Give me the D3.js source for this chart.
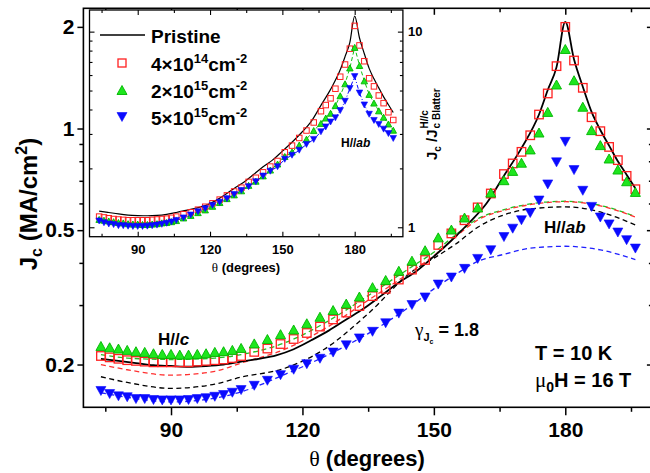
<!DOCTYPE html>
<html>
<head>
<meta charset="utf-8">
<script src="https://cdn.jsdelivr.net/npm/d3@7"></script>
<style>
  html, body { margin: 0; padding: 0; background: #fff; }
  svg { display: block; font-family: "Liberation Sans", Arial, sans-serif; }
  text { white-space: pre; }
</style>
</head>
<body>
<svg id="chart" width="650" height="473"></svg>
<script>
// ---------- angles (degrees) ----------
const thetaMain = [74,76,78,80,82,84,86,88,90,92,94,96,98,100,102,104,106,
  109,112,115,118,121,124,127,130,133,136,139,142,145,148,151,154,157,160,163,
  166,168,170,172,174,176,178,180,182,184,186,188,190,192,194,196];
const thetaPristine = [74,78,82,86,90,94,98,102,106,110,114,118,122,126,130,134,138,142,
  146,150,154,158,162,166,170,174,176,178,180,182,184,186,188,190,192,194,196];
const thetaFit = [74,80,90,100,106,116,125,135,145,150,155,160,166,172,180,188,196];

// ---------- main panel: Jc (MA/cm^2) ----------
const jcPristine = [0.208,0.205,0.202,0.199,0.198,0.197,0.198,0.200,0.204,0.208,0.213,0.222,
  0.236,0.252,0.272,0.293,0.320,0.350,0.378,0.418,0.466,0.525,0.600,0.725,0.875,1.10,1.30,1.52,
  2.07,1.60,1.33,1.12,0.99,0.89,0.80,0.73,0.665];
const jc4e14 = [0.212,0.210,0.208,0.206,0.205,0.204,0.203,0.203,0.203,0.203,0.203,0.204,0.205,0.206,0.207,0.209,0.212,
  0.218,0.223,0.230,0.238,0.248,0.259,0.272,0.285,0.298,0.319,0.335,0.357,0.382,0.408,0.452,0.489,0.535,0.584,0.642,
  0.733,0.788,0.853,0.955,1.10,1.27,1.53,2.00,1.59,1.32,1.08,0.982,0.882,0.806,0.724,0.661];
const jc2e15 = [0.227,0.225,0.223,0.221,0.219,0.218,0.216,0.215,0.215,0.214,0.214,0.215,0.216,0.218,0.219,0.221,0.224,
  0.231,0.238,0.246,0.254,0.265,0.277,0.290,0.303,0.318,0.339,0.356,0.379,0.406,0.436,0.476,0.502,0.545,0.584,0.646,
  0.703,0.749,0.792,0.867,0.973,1.12,1.35,1.72,1.39,1.16,0.989,0.893,0.815,0.756,0.698,0.649];
const jc5e15 = [0.167,0.1635,0.161,0.160,0.158,0.158,0.157,0.1566,0.1566,0.1566,0.157,0.158,0.159,0.1605,0.1624,0.165,0.168,
  0.173,0.179,0.186,0.193,0.2005,0.208,0.217,0.228,0.239,0.250,0.265,0.283,0.300,0.316,0.345,0.362,0.384,0.411,0.436,
  0.477,0.505,0.535,0.562,0.612,0.683,0.794,0.913,0.753,0.654,0.586,0.545,0.520,0.492,0.467,0.441];

// Blatter scaling curves (dashed)
const fitPristine = [0.184,0.177,0.170,0.175,0.1835,0.195,0.222,0.283,0.377,0.413,0.455,0.510,0.555,0.578,0.586,0.566,0.518];
const fit4e14     = [0.200,0.193,0.186,0.191,0.202,0.222,0.255,0.310,0.378,0.420,0.478,0.536,0.572,0.595,0.607,0.590,0.547];
const fit2e15     = [0.214,0.209,0.207,0.209,0.214,0.232,0.265,0.320,0.390,0.430,0.485,0.540,0.575,0.598,0.609,0.592,0.549];
const fit5e15     = [0.165,0.160,0.155,0.159,0.166,0.187,0.211,0.247,0.300,0.335,0.370,0.404,0.424,0.442,0.448,0.437,0.409];

// ---------- inset: Jc / Jc,Blatter(H//c) ----------
const rPristine = [1.21,1.19,1.17,1.155,1.148,1.145,1.15,1.165,1.19,1.22,1.25,1.29,1.36,1.46,1.58,1.70,1.86,2.04,
  2.21,2.45,2.72,3.05,3.48,4.20,5.07,6.38,7.45,8.81,12.0,9.28,7.71,6.49,5.74,5.16,4.64,4.23,3.86];
const r4e14 = [1.134,1.123,1.112,1.102,1.096,1.091,1.086,1.086,1.086,1.086,1.086,1.091,1.096,1.102,1.107,1.118,1.134,
  1.166,1.193,1.23,1.273,1.326,1.385,1.455,1.524,1.594,1.706,1.791,1.909,2.043,2.182,2.417,2.615,2.861,3.123,3.433,
  3.92,4.214,4.561,5.107,5.882,6.791,8.182,10.7,8.503,7.059,5.775,5.251,4.717,4.31,3.872,3.535];
const r2e15 = [1.097,1.087,1.077,1.068,1.058,1.053,1.043,1.039,1.039,1.034,1.034,1.039,1.043,1.053,1.058,1.068,1.082,
  1.116,1.15,1.188,1.227,1.28,1.338,1.401,1.464,1.536,1.638,1.72,1.831,1.961,2.106,2.3,2.425,2.633,2.821,3.121,
  3.396,3.618,3.826,4.188,4.7,5.411,6.522,8.309,6.715,5.604,4.778,4.314,3.937,3.652,3.372,3.135];
const r5e15 = [1.077,1.055,1.039,1.032,1.019,1.019,1.013,1.01,1.01,1.01,1.013,1.019,1.026,1.035,1.048,1.065,1.084,
  1.116,1.155,1.2,1.245,1.294,1.342,1.4,1.471,1.542,1.613,1.71,1.826,1.935,2.039,2.226,2.335,2.477,2.652,2.813,
  3.077,3.258,3.452,3.626,3.948,4.406,5.123,5.89,4.858,4.219,3.781,3.516,3.355,3.174,3.013,2.845];

// ---------- ticks ----------
const xMajor = [90,120,150,180];
const xMinor = [75,105,135,165,195];
const yMajorMain = [0.2,0.5,1,2];
const yMinorMain = [0.3,0.4,0.6,0.7,0.8,0.9];
const yMajorInset = [1,10];
const yMinorInset = [2,3,4,5,6,7,8,9];

// ---------- colours ----------
const RED = "#ff2020", GREEN = "#1ee61e", GREEN_EDGE = "#00b400", BLUE = "#0a0aff";
const SANS = "'Liberation Sans', Arial, sans-serif";
const SERIF = "'Liberation Serif', 'DejaVu Serif', serif";

const svg = d3.select("#chart");
svg.append("rect").attr("width", 650).attr("height", 473).attr("fill", "#fff");

// ---------- helpers ----------
function rich(parent, x, y, parts, size, anchor) {
  const t = parent.append("text").attr("x", x).attr("y", y)
    .attr("text-anchor", anchor || "start").attr("font-family", SANS)
    .attr("font-weight", "bold").attr("font-size", size).attr("fill", "#000");
  let prev = 0;
  parts.forEach(p => {
    const off = p.off || 0;
    const s = t.append("tspan").text(p.t).attr("dy", off - prev);
    prev = off;
    if (p.size) s.attr("font-size", p.size);
    if (p.italic) s.attr("font-style", "italic");
    if (p.serif) s.attr("font-family", SERIF).attr("font-weight", "normal");
  });
  return t;
}
function square(g, cx, cy, s, stroke, sw) {
  g.append("rect").attr("x", cx - s / 2).attr("y", cy - s / 2).attr("width", s).attr("height", s)
    .attr("fill", "none").attr("stroke", stroke).attr("stroke-width", sw);
}
function triUp(g, cx, cy, w, h, fill, stroke) {
  g.append("path").attr("d", `M${cx},${cy - h / 2}L${cx + w / 2},${cy + h / 2}L${cx - w / 2},${cy + h / 2}Z`)
    .attr("fill", fill).attr("stroke", stroke).attr("stroke-width", 0.9);
}
function triDown(g, cx, cy, w, h, fill) {
  g.append("path").attr("d", `M${cx - w / 2},${cy - h / 2}L${cx + w / 2},${cy - h / 2}L${cx},${cy + h / 2}Z`)
    .attr("fill", fill).attr("stroke", fill).attr("stroke-width", 0.6);
}
function styleAxis(g, size) {
  g.attr("font-family", SANS).attr("font-size", size).attr("font-weight", "bold");
  g.selectAll(".tick line").attr("stroke", "#000").attr("stroke-width", 1.5);
  g.select(".domain").remove();
  g.selectAll("text").attr("fill", "#000");
}

// ================= MAIN PANEL =================
const M = { left: 83.4, right: 652.9, top: 8.3, bottom: 407.3 };
const x = d3.scaleLinear().domain([70, 200]).range([M.left, M.right]);
const y = d3.scaleLog().domain([0.1494, 2.27]).range([M.bottom, M.top]);

svg.append("clipPath").attr("id", "clipMain").append("rect")
  .attr("x", M.left).attr("y", M.top).attr("width", M.right - M.left).attr("height", M.bottom - M.top);

const plot = svg.append("g").attr("clip-path", "url(#clipMain)");

const fitLine = d3.line().x((d, i) => x(thetaFit[i])).y(d => y(d)).curve(d3.curveMonotoneX);
[[fit2e15, "#20c020"], [fitPristine, "#000"], [fit4e14, "#ff3030"], [fit5e15, "#2020ff"]].forEach(([arr, c]) => {
  plot.append("path").attr("d", fitLine(arr)).attr("fill", "none")
    .attr("stroke", c).attr("stroke-width", 1.3).attr("stroke-dasharray", "5,3.5");
});

const pristineLine = d3.line().x((d, i) => x(thetaPristine[i])).y(d => y(d)).curve(d3.curveMonotoneX);
plot.append("path").attr("d", pristineLine(jcPristine)).attr("fill", "none")
  .attr("stroke", "#000").attr("stroke-width", 1.8);

const gSq = plot.append("g");
jc4e14.forEach((v, i) => square(gSq, x(thetaMain[i]), y(v), 8.5, RED, 1.3));
const gUp = plot.append("g");
jc2e15.forEach((v, i) => triUp(gUp, x(thetaMain[i]), y(v), 10, 9, GREEN, GREEN_EDGE));
const gDn = plot.append("g");
jc5e15.forEach((v, i) => triDown(gDn, x(thetaMain[i]), y(v), 10, 9, BLUE));

// axes of the main panel
const fmtY = d => (d < 1 ? d.toFixed(1) : String(d));
const axL = svg.append("g").attr("transform", `translate(${M.left},0)`)
  .call(d3.axisLeft(y).tickValues(yMajorMain).tickFormat(fmtY).tickSize(6).tickPadding(3));
styleAxis(axL, 21);
const axLm = svg.append("g").attr("transform", `translate(${M.left},0)`)
  .call(d3.axisLeft(y).tickValues(yMinorMain).tickFormat("").tickSize(4));
styleAxis(axLm, 10);
const axR = svg.append("g").attr("transform", `translate(${M.right},0)`)
  .call(d3.axisRight(y).tickValues(yMajorMain).tickFormat("").tickSize(-6));
styleAxis(axR, 10);
const axRm = svg.append("g").attr("transform", `translate(${M.right},0)`)
  .call(d3.axisRight(y).tickValues(yMinorMain).tickFormat("").tickSize(-4));
styleAxis(axRm, 10);

const axB = svg.append("g").attr("transform", `translate(0,${M.bottom})`)
  .call(d3.axisBottom(x).tickValues(xMajor).tickFormat(d3.format("d")).tickSize(8).tickPadding(7));
styleAxis(axB, 21);
const axBm = svg.append("g").attr("transform", `translate(0,${M.bottom})`)
  .call(d3.axisBottom(x).tickValues(xMinor).tickFormat("").tickSize(4.5));
styleAxis(axBm, 10);
const axT = svg.append("g").attr("transform", `translate(0,${M.top})`)
  .call(d3.axisTop(x).tickValues(xMajor).tickFormat("").tickSize(-6.5));
styleAxis(axT, 10);
const axTm = svg.append("g").attr("transform", `translate(0,${M.top})`)
  .call(d3.axisTop(x).tickValues(xMinor).tickFormat("").tickSize(-4));
styleAxis(axTm, 10);

svg.append("rect").attr("x", M.left).attr("y", M.top).attr("width", M.right - M.left)
  .attr("height", M.bottom - M.top).attr("fill", "none").attr("stroke", "#000").attr("stroke-width", 1.6);

// axis titles
rich(svg, 367, 466, [{ t: "θ", serif: true }, { t: " (degrees)" }], 22, "middle");
const yTitle = svg.append("g").attr("transform", "translate(37,204) rotate(-90)");
rich(yTitle, 0, 0, [
  { t: "J" }, { t: "c", size: 16, off: 5 }, { t: " (MA/cm", off: 0 },
  { t: "2", size: 16, off: -10 }, { t: ")", off: 0 }
], 24, "middle");

// annotations
rich(svg, 158, 345, [{ t: "H//" }, { t: "c", italic: true }], 17);
rich(svg, 544, 233, [{ t: "H//" }, { t: "ab", italic: true }], 17);
rich(svg, 415, 336, [
  { t: "γ", serif: true, size: 19 }, { t: "J", size: 11, off: 5 }, { t: "c", size: 7, off: 8 },
  { t: " = 1.8", off: 0 }
], 18);
rich(svg, 535, 360, [{ t: "T = 10 K" }], 20);
rich(svg, 535, 387, [
  { t: "μ", serif: true, size: 21 }, { t: "0", size: 14, off: 5 }, { t: "H = 16 T", off: 0 }
], 20);

// ================= INSET =================
const I = { left: 89.5, right: 402.9, top: 10, bottom: 236.7 };
const xi = d3.scaleLinear().domain([70, 200]).range([I.left, I.right]);
const yi = d3.scaleLog().domain([0.895, 12.9]).range([I.bottom, I.top]);

svg.append("rect").attr("x", I.left).attr("y", I.top).attr("width", I.right - I.left)
  .attr("height", I.bottom - I.top).attr("fill", "#fff");
svg.append("clipPath").attr("id", "clipInset").append("rect")
  .attr("x", I.left).attr("y", I.top).attr("width", I.right - I.left).attr("height", I.bottom - I.top);
const ip = svg.append("g").attr("clip-path", "url(#clipInset)");

const insetLine = th => d3.line().x((d, i) => xi(th[i])).y(d => yi(d));
ip.append("path").attr("d", insetLine(thetaPristine).curve(d3.curveMonotoneX)(rPristine)).attr("fill", "none")
  .attr("stroke", "#000").attr("stroke-width", 1.2);
ip.append("path").attr("d", insetLine(thetaMain)(r2e15)).attr("fill", "none")
  .attr("stroke", "#10c010").attr("stroke-width", 1).attr("stroke-dasharray", "4,2.5");
ip.append("path").attr("d", insetLine(thetaMain)(r5e15)).attr("fill", "none")
  .attr("stroke", BLUE).attr("stroke-width", 1).attr("stroke-dasharray", "4,2,1,2");

const iSq = ip.append("g");
r4e14.forEach((v, i) => square(iSq, xi(thetaMain[i]), yi(v), 5.5, RED, 1));
const iUp = ip.append("g");
r2e15.forEach((v, i) => triUp(iUp, xi(thetaMain[i]), yi(v), 6.5, 6, GREEN, GREEN_EDGE));
const iDn = ip.append("g");
r5e15.forEach((v, i) => triDown(iDn, xi(thetaMain[i]), yi(v), 6.5, 6, BLUE));

// inset axes
const iaB = svg.append("g").attr("transform", `translate(0,${I.bottom})`)
  .call(d3.axisBottom(xi).tickValues(xMajor).tickFormat(d3.format("d")).tickSizeInner(-5).tickSizeOuter(0).tickPadding(8));
styleAxis(iaB, 13);
const iaBm = svg.append("g").attr("transform", `translate(0,${I.bottom})`)
  .call(d3.axisBottom(xi).tickValues(xMinor).tickFormat("").tickSize(-3));
styleAxis(iaBm, 10);
const iaT = svg.append("g").attr("transform", `translate(0,${I.top})`)
  .call(d3.axisTop(xi).tickValues(xMajor).tickFormat("").tickSize(-5));
styleAxis(iaT, 10);
const iaTm = svg.append("g").attr("transform", `translate(0,${I.top})`)
  .call(d3.axisTop(xi).tickValues(xMinor).tickFormat("").tickSize(-3));
styleAxis(iaTm, 10);
const iaL = svg.append("g").attr("transform", `translate(${I.left},0)`)
  .call(d3.axisLeft(yi).tickValues(yMajorInset).tickFormat("").tickSize(-5));
styleAxis(iaL, 10);
const iaLm = svg.append("g").attr("transform", `translate(${I.left},0)`)
  .call(d3.axisLeft(yi).tickValues(yMinorInset).tickFormat("").tickSize(-3));
styleAxis(iaLm, 10);
const iaR = svg.append("g").attr("transform", `translate(${I.right},0)`)
  .call(d3.axisRight(yi).tickValues(yMajorInset).tickFormat(d3.format("d")).tickSizeInner(-5).tickPadding(5));
styleAxis(iaR, 13);
const iaRm = svg.append("g").attr("transform", `translate(${I.right},0)`)
  .call(d3.axisRight(yi).tickValues(yMinorInset).tickFormat("").tickSize(-3));
styleAxis(iaRm, 10);
[iaL, iaR, iaLm, iaRm, iaB, iaBm, iaT, iaTm].forEach(g => g.selectAll(".tick line").attr("stroke-width", 1.1));

svg.append("rect").attr("x", I.left).attr("y", I.top).attr("width", I.right - I.left)
  .attr("height", I.bottom - I.top).attr("fill", "none").attr("stroke", "#000").attr("stroke-width", 1.3);

// inset titles
rich(svg, 246, 272, [{ t: "θ", serif: true }, { t: " (degrees)" }], 13, "middle");
const iyT = svg.append("g").attr("transform", "translate(437,160) rotate(-90)");
const head = rich(iyT, 0, 0, [{ t: "J" }, { t: "c", size: 10, off: 4 }, { t: " /J", off: 0 }], 15);
const hl = head.node().getComputedTextLength();
rich(iyT, hl + 1, 3, [{ t: "c Blatter" }], 10);
rich(iyT, hl + 1, -9, [{ t: "H//c" }], 10);
rich(svg, 341, 147, [{ t: "H//" }, { t: "ab", italic: true }], 12);

// legend
const lg = svg.append("g");
lg.append("line").attr("x1", 100).attr("x2", 145).attr("y1", 35).attr("y2", 35)
  .attr("stroke", "#000").attr("stroke-width", 1.6);
rich(lg, 151, 42.5, [{ t: "Pristine" }], 19);
square(lg, 122, 63, 8, RED, 1.3);
rich(lg, 151, 71, [{ t: "4×10" }, { t: "14", size: 13, off: -8 }, { t: "cm", off: 0 }, { t: "-2", size: 13, off: -8 }], 19);
triUp(lg, 122, 90, 10, 9, GREEN, GREEN_EDGE);
rich(lg, 151, 98, [{ t: "2×10" }, { t: "15", size: 13, off: -8 }, { t: "cm", off: 0 }, { t: "-2", size: 13, off: -8 }], 19);
triDown(lg, 122, 117, 10, 9, BLUE);
rich(lg, 151, 125, [{ t: "5×10" }, { t: "15", size: 13, off: -8 }, { t: "cm", off: 0 }, { t: "-2", size: 13, off: -8 }], 19);
</script>
</body>
</html>
